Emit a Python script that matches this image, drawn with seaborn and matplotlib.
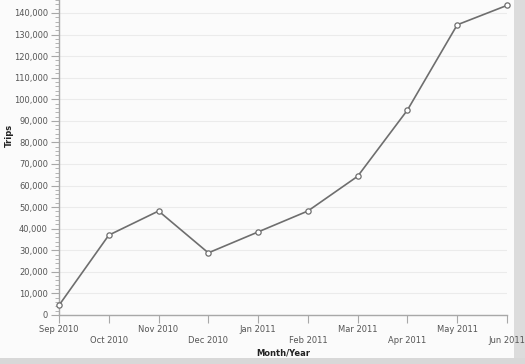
import numpy as np
import pandas as pd
import seaborn as sns
import matplotlib.pyplot as plt
from matplotlib.ticker import MultipleLocator, FuncFormatter
from matplotlib.patches import Rectangle

# data
months = ['Sep 2010', 'Oct 2010', 'Nov 2010', 'Dec 2010', 'Jan 2011',
          'Feb 2011', 'Mar 2011', 'Apr 2011', 'May 2011', 'Jun 2011']
trips = [4500, 37000, 48200, 28800, 38500, 48200, 64300, 95000, 134500, 143500]

df = pd.DataFrame({'idx': np.arange(len(months)), 'trips': trips})

sns.set_style("white")
plt.rcParams['font.family'] = ['Verdana', 'DejaVu Sans']

fig = plt.figure(figsize=(5.25, 3.64), dpi=100, facecolor='#fbfbfb')
ax = fig.add_axes([59/525, 1 - 315/364, (507 - 59)/525, 315/364])
ax.set_facecolor('#fbfbfb')

sns.lineplot(data=df, x='idx', y='trips', ax=ax, color='#6e6e6e', linewidth=1.2,
             marker='o', markersize=3.8, markerfacecolor='white',
             markeredgecolor='#6e6e6e', markeredgewidth=0.9, clip_on=False, zorder=5)

ax.set_xlim(0, len(months) - 1)
ax.set_ylim(0, 146000)

# gridlines
ax.yaxis.set_major_locator(MultipleLocator(10000))
ax.yaxis.set_minor_locator(MultipleLocator(2000))
ax.grid(axis='y', which='major', color='#ebebeb', linewidth=0.8)
ax.grid(axis='x', visible=False)
ax.yaxis.set_major_formatter(FuncFormatter(lambda v, p: f'{int(v):,}'))

ax.set_xticks(df['idx'])
ax.set_xticklabels([m if i % 2 == 0 else '\n' + m for i, m in enumerate(months)])

for s in ['top', 'right']:
    ax.spines[s].set_visible(False)
for s in ['left', 'bottom']:
    ax.spines[s].set_color('#a8a8a8')
    ax.spines[s].set_linewidth(1.0)

ax.tick_params(axis='y', which='major', direction='out', length=6, width=0.8,
               color='#a8a8a8', labelsize=6, labelcolor='#555555', left=True, pad=2)
ax.tick_params(axis='y', which='minor', direction='out', length=3, width=0.6,
               color='#a8a8a8', left=True)
ax.tick_params(axis='x', which='major', direction='out', length=6, width=0.8,
               color='#a8a8a8', labelsize=6, labelcolor='#555555', bottom=True, pad=1.5)

ax.set_xlabel('Month/Year', fontsize=6, fontweight='bold', color='#222222')
ax.set_ylabel('Trips', fontsize=6, fontweight='bold', color='#222222')
ax.xaxis.set_label_coords(0.5, -0.105)
ax.yaxis.set_label_coords(-0.1, 0.57)

# frame strips on the right and bottom
fig.patches.append(Rectangle((514/525, 0), 11/525, 1, transform=fig.transFigure,
                             facecolor='#dcdcdc', edgecolor='none', zorder=-1))
fig.patches.append(Rectangle((0, 0), 1, 6/364, transform=fig.transFigure,
                             facecolor='#d8d8d8', edgecolor='none', zorder=-1))

fig.savefig('out.png', dpi=100, facecolor=fig.get_facecolor())
